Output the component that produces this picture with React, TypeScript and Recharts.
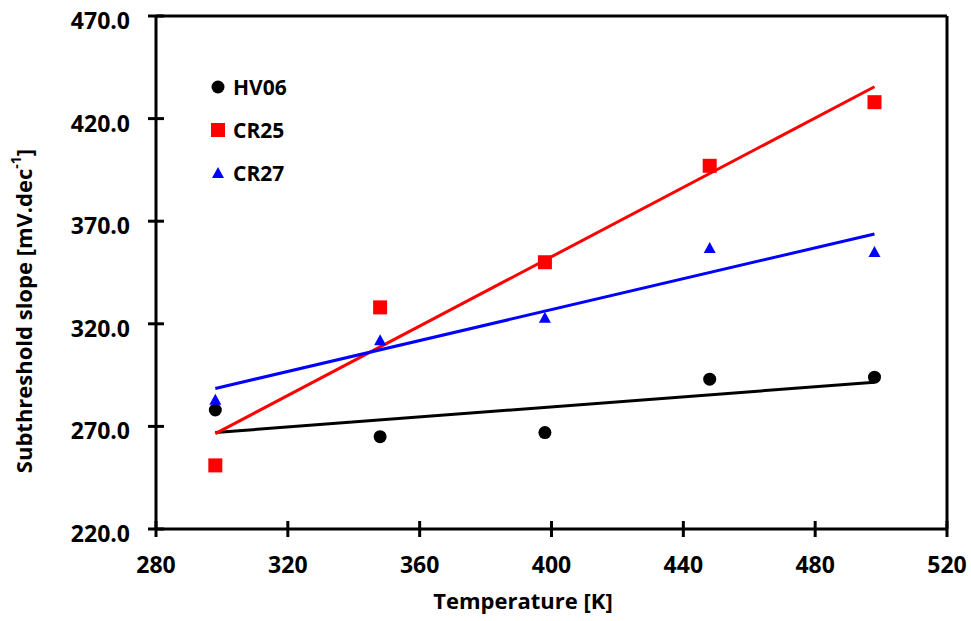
import React from "react";
import { ComposedChart, Scatter, XAxis, YAxis, ReferenceLine, Legend } from "recharts";

const temperatures = [298, 348, 398, 448, 498];
const hv06Values = [278, 265, 267, 293, 294];
const cr25Values = [251, 328, 350, 397, 428];
const cr27Values = [283, 312, 323, 357, 355];

const fitTemps = [298, 498];
const hv06Fit = [267, 291.5];
const cr25Fit = [266.5, 435.5];
const cr27Fit = [288.5, 363.8];

const xTicks = [280, 320, 360, 400, 440, 480, 520];
const yTicks = [220, 270, 320, 370, 420, 470];

const seriesNames = ["HV06", "CR25", "CR27"];
const seriesColors = ["#000000", "#ff0000", "#0000ff"];

const toPoints = (xs: number[], ys: number[]) => xs.map((x, i) => ({ x, y: ys[i] }));

const FONT = "'Open Sans', sans-serif";
const Y_MARGIN = 26;
const X_MARGIN = 35;

const YTick = (props: any) => {
  const { x, y, payload } = props;
  const ax = x + Y_MARGIN;
  return (
    <g>
      <line x1={ax - 8} x2={ax + 8} y1={y} y2={y} stroke="#000" strokeWidth={3} />
      <text x={x} y={y + 4} textAnchor="end" dominantBaseline="central" fontFamily={FONT} fontWeight={700} fontSize={23} fill="#000">
        {Number(payload.value).toFixed(1)}
      </text>
    </g>
  );
};

const XTick = (props: any) => {
  const { x, y, payload } = props;
  const ay = y - X_MARGIN;
  return (
    <g>
      <line x1={x} x2={x} y1={ay - 8} y2={ay + 8} stroke="#000" strokeWidth={3} />
      <text x={x} y={y} textAnchor="middle" dominantBaseline="central" fontFamily={FONT} fontWeight={700} fontSize={23} fill="#000">
        {payload.value}
      </text>
    </g>
  );
};

const CircleShape = (props: any) => <circle cx={props.cx} cy={props.cy} r={6.5} fill="#000" />;
const SquareShape = (props: any) => <rect x={props.cx - 7} y={props.cy - 7} width={14} height={14} fill="#ff0000" />;
const TriangleShape = (props: any) => (
  <polygon points={`${props.cx},${props.cy - 6} ${props.cx + 6},${props.cy + 5} ${props.cx - 6},${props.cy + 5}`} fill="#0000ff" />
);
const NoShape = () => <g />;

const legendIcons = [
  <circle cx={8} cy={8} r={6.5} fill="#000" />,
  <rect x={1} y={1} width={14} height={14} fill="#ff0000" />,
  <polygon points="8,2 14,13 2,13" fill="#0000ff" />,
];

const LegendContent = () => (
  <div style={{ display: "flex", flexDirection: "column" }}>
    {seriesNames.map((name, i) => (
      <div key={name} style={{ display: "flex", alignItems: "center", height: 43 }}>
        <svg width={16} height={16} style={{ marginRight: 7 }}>{legendIcons[i]}</svg>
        <span style={{ fontFamily: FONT, fontWeight: 700, fontSize: 21, color: "#000", lineHeight: "22px" }}>{name}</span>
      </div>
    ))}
  </div>
);

const XLabel = (props: any) => {
  const vb = props.viewBox;
  return (
    <text x={523} y={vb.y + vb.height - 12} textAnchor="middle" fontFamily={FONT} fontWeight={700} fontSize={22} fill="#000">
      Temperature [K]
    </text>
  );
};

const YLabel = () => {
  const cy = 311;
  const cx = 23;
  return (
    <text x={cx} y={cy} transform={`rotate(-90 ${cx} ${cy})`} textAnchor="middle" dominantBaseline="central" fontFamily={FONT} fontWeight={700} fontSize={22} fill="#000">
      Subthreshold slope [mV.dec<tspan fontSize={14} dy={-8}>-1</tspan><tspan dy={8}>]</tspan>
    </text>
  );
};

export default function App() {
  return (
    <div style={{ position: "absolute", left: 0, top: 0, background: "#fff" }}>
      <ComposedChart width={971} height={621} margin={{ top: 16, right: 24, bottom: 0, left: 0 }}>
        <XAxis
          type="number"
          dataKey="x"
          domain={[280, 520]}
          ticks={xTicks}
          interval={0}
          height={92}
          stroke="#000"
          strokeWidth={3}
          tickLine={false}
          tickSize={0}
          tickMargin={X_MARGIN}
          tick={<XTick />}
          label={<XLabel />}
          allowDataOverflow
        />
        <YAxis
          type="number"
          dataKey="y"
          domain={[220, 470]}
          ticks={yTicks}
          interval={0}
          width={156}
          stroke="#000"
          strokeWidth={3}
          tickLine={false}
          tickSize={0}
          tickMargin={Y_MARGIN}
          tick={<YTick />}
          label={<YLabel />}
          allowDataOverflow
        />
        <ReferenceLine y={470} stroke="#000" strokeWidth={3} />
        <ReferenceLine x={520} stroke="#000" strokeWidth={3} />
        <Scatter name="HV06 fit" data={toPoints(fitTemps, hv06Fit)} line={{ stroke: "#000", strokeWidth: 3 }} shape={<NoShape />} isAnimationActive={false} legendType="none" />
        <Scatter name="CR25 fit" data={toPoints(fitTemps, cr25Fit)} line={{ stroke: "#ff0000", strokeWidth: 3 }} shape={<NoShape />} isAnimationActive={false} legendType="none" />
        <Scatter name="CR27 fit" data={toPoints(fitTemps, cr27Fit)} line={{ stroke: "#0000ff", strokeWidth: 3 }} shape={<NoShape />} isAnimationActive={false} legendType="none" />
        <Scatter name={seriesNames[0]} data={toPoints(temperatures, hv06Values)} fill={seriesColors[0]} shape={<CircleShape />} isAnimationActive={false} />
        <Scatter name={seriesNames[1]} data={toPoints(temperatures, cr25Values)} fill={seriesColors[1]} shape={<SquareShape />} isAnimationActive={false} />
        <Scatter name={seriesNames[2]} data={toPoints(temperatures, cr27Values)} fill={seriesColors[2]} shape={<TriangleShape />} isAnimationActive={false} />
        <Legend
          layout="horizontal"
          verticalAlign="middle"
          align="center"
          content={<LegendContent />}
          wrapperStyle={{ position: "absolute", left: 210, top: 65, width: 140 }}
        />
      </ComposedChart>
    </div>
  );
}
